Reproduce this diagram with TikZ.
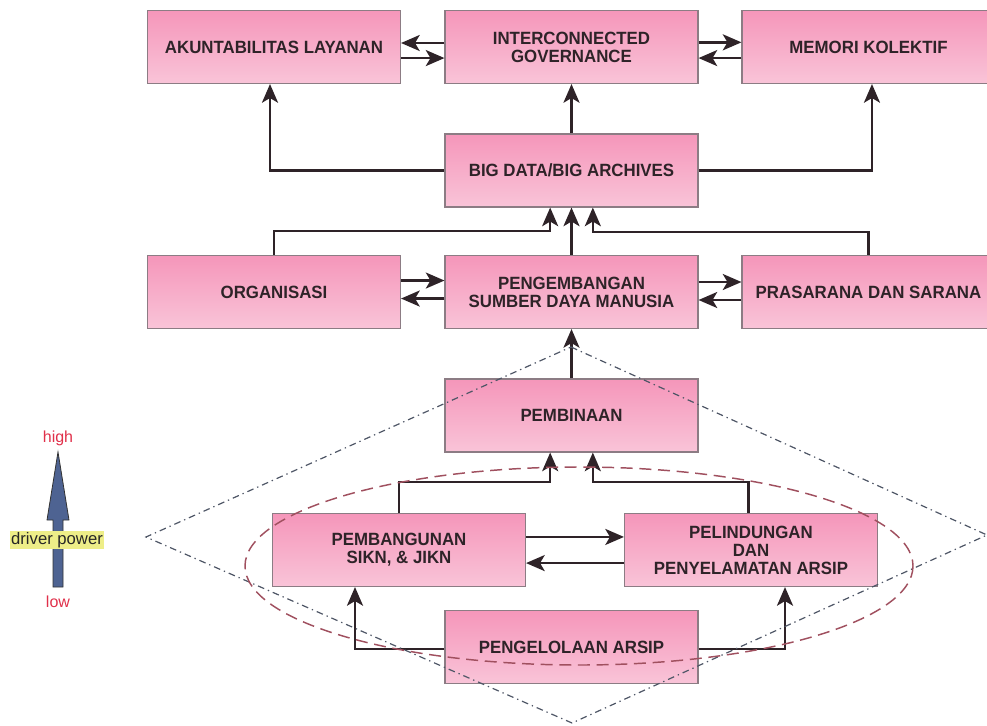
\documentclass[tikz,border=0pt]{standalone}
\usepackage{fontspec}
\setmainfont{Liberation Sans}
\newfontfamily\boxfont{Liberation Sans}[FakeStretch=0.95]
\usetikzlibrary{arrows.meta}
\definecolor{pinktop}{HTML}{F596BA}
\definecolor{pinkbot}{HTML}{F9C4D8}
\definecolor{boxline}{HTML}{8C7C84}
\definecolor{ink}{HTML}{2E2328}
\definecolor{ringred}{HTML}{A0505F}
\definecolor{diamondgray}{HTML}{4E5666}
\definecolor{driverblue}{HTML}{4E6392}
\definecolor{lowhigh}{HTML}{E0304A}
\definecolor{marker}{HTML}{EEEE88}
\begin{document}
\begin{tikzpicture}[
    x=0.75pt, y=-0.75pt,
    box/.style={
        draw=boxline,
        line width=0.8pt,
        top color=pinktop,
        bottom color=pinkbot,
        minimum width=189.75pt,
        minimum height=54.75pt,
        align=center,
        text=ink,
        font=\boxfont\bfseries\fontsize{13.3}{13.5}\selectfont
    },
    link/.style={
        draw=ink,
        line width=1.9pt,
        -{Stealth[length=14pt,width=12pt,inset=3.5pt]}
    }
]
    \useasboundingbox (0,0) rectangle (987,725);

    % --- Top row ---
    \node[box] (akun) at (274,47) {AKUNTABILITAS LAYANAN};
    \node[box] (inter) at (571.5,47) {INTERCONNECTED\\GOVERNANCE};
    \node[box] (memori) at (868.5,47) {MEMORI KOLEKTIF};

    % --- Big data ---
    \node[box] (bigdata) at (571.5,170.5) {BIG DATA/BIG ARCHIVES};

    % --- Middle row ---
    \node[box] (organisasi) at (274,292) {ORGANISASI};
    \node[box] (sdm) at (571.5,292) {PENGEMBANGAN\\SUMBER DAYA MANUSIA};
    \node[box] (prasarana) at (868.5,292) {PRASARANA DAN SARANA};

    % --- Lower part ---
    \node[box] (pembinaan) at (571.5,415.5) {PEMBINAAN};
    \node[box] (sikn) at (399,550) {PEMBANGUNAN\\SIKN, \& JIKN};
    \node[box] (arsip) at (751,550) {PELINDUNGAN\\DAN\\PENYELAMATAN ARSIP};
    \node[box] (kelola) at (571.5,647) {PENGELOLAAN ARSIP};

    % top row links
    \draw[link] ([yshift=3pt]inter.west) -- ([yshift=3pt]akun.east);
    \draw[link] ([yshift=-8.3pt]akun.east) -- ([yshift=-8.3pt]inter.west);
    \draw[link] ([yshift=3.5pt]inter.east) -- ([yshift=3.5pt]memori.west);
    \draw[link] ([yshift=-8.3pt]memori.west) -- ([yshift=-8.3pt]inter.east);

    % big data up
    \draw[link] (bigdata.north) -- (inter.south);
    \draw[link] (bigdata.west) -| ([xshift=-3pt]akun.south);
    \draw[link] (bigdata.east) -| ([xshift=2.6pt]memori.south);

    % middle row links
    \draw[link] ([yshift=8.6pt]organisasi.east) -- ([yshift=8.6pt]sdm.west);
    \draw[link] ([yshift=-4.9pt]sdm.west) -- ([yshift=-4.9pt]organisasi.east);
    \draw[link] ([yshift=7.5pt]sdm.east) -- ([yshift=7.5pt]prasarana.west);
    \draw[link] ([yshift=-6pt]prasarana.west) -- ([yshift=-6pt]sdm.east);

    % middle row up to big data
    \draw[link] (organisasi.north) -- ++(0,-24) -| ([xshift=-16pt]bigdata.south);
    \draw[link] (sdm.north) -- (bigdata.south);
    \draw[link] (prasarana.north) -- ++(0,-23) -| ([xshift=16pt]bigdata.south);

    % lower part
    \draw[link] (pembinaan.north) -- (sdm.south);
    \draw[link] (sikn.north) -- ++(0,-31) -| ([xshift=-16pt]pembinaan.south);
    \draw[link] ([xshift=-2pt]arsip.north) -- ++(0,-31) -| ([xshift=16pt]pembinaan.south);
    \draw[link] ([yshift=9.8pt]sikn.east) -- ([yshift=9.8pt]arsip.west);
    \draw[link] ([yshift=-9.8pt]arsip.west) -- ([yshift=-9.8pt]sikn.east);
    \draw[link] ([yshift=-1.5pt]kelola.west) -| ([xshift=-33pt]sikn.south);
    \draw[link] ([yshift=-1.5pt]kelola.east) -| ([xshift=25.5pt]arsip.south);

    % diamond and ring
    \draw[diamondgray, line width=0.9pt, dash pattern=on 5pt off 3pt on 1pt off 3pt]
        (571,347) -- (987,535) -- (572,723) -- (146,537) -- cycle;
    \draw[ringred, line width=1.1pt, dash pattern=on 9pt off 5pt]
        (579,566) ellipse [x radius=334, y radius=99];

    % driver power
    \draw[fill=driverblue, draw=black!80, line width=0.6pt]
        (53,587) -- (53,520) -- (47,520) -- (58,452) -- (69,520)
        -- (63,520) -- (63,587) -- cycle;
    \node[text=lowhigh, font=\fontsize{12}{12}\selectfont] (high) at (58,438) {high};
    \node[text=lowhigh, font=\fontsize{12}{12}\selectfont] (low) at (58,602) {low};
    \node[fill=marker, inner sep=1pt, text=black!85, font=\fontsize{12.5}{12.5}\selectfont] (driver) at (57,540) {driver power};
\end{tikzpicture}
\end{document}
